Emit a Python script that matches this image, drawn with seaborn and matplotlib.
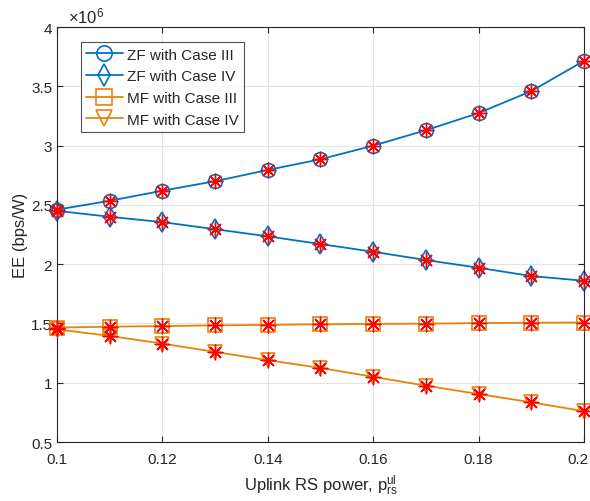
import numpy as np
import pandas as pd
import seaborn as sns
import matplotlib
matplotlib.use("Agg")
import matplotlib.pyplot as plt
import matplotlib.transforms as mtransforms
from matplotlib.ticker import FuncFormatter, MultipleLocator

# Data (EE in units of 1e6 bps/W)
rs_power = [0.10, 0.11, 0.12, 0.13, 0.14, 0.15, 0.16, 0.17, 0.18, 0.19, 0.20]
zf_case3 = [2.46, 2.535, 2.62, 2.70, 2.795, 2.885, 3.00, 3.13, 3.275, 3.46, 3.715]
zf_case4 = [2.45, 2.40, 2.355, 2.295, 2.235, 2.17, 2.105, 2.035, 1.97, 1.90, 1.86]
mf_case3 = [1.465, 1.473, 1.478, 1.484, 1.488, 1.493, 1.496, 1.499, 1.503, 1.506, 1.508]
mf_case4 = [1.45, 1.395, 1.33, 1.26, 1.19, 1.125, 1.05, 0.975, 0.905, 0.835, 0.76]
series_names = ["ZF with Case III", "ZF with Case IV", "MF with Case III", "MF with Case IV"]

df = pd.DataFrame({
    "p": rs_power * 4,
    "EE": zf_case3 + zf_case4 + mf_case3 + mf_case4,
    "series": sum([[n] * len(rs_power) for n in series_names], []),
})

sns.set_theme(style="white")
plt.rcParams["font.family"] = ["Liberation Sans", "DejaVu Sans"]
plt.rcParams["mathtext.fontset"] = "custom"
plt.rcParams["mathtext.rm"] = "Liberation Sans"
plt.rcParams["mathtext.it"] = "Liberation Sans"

blue = "#0072BD"
orange = "#E8820C"
palette = {series_names[0]: blue, series_names[1]: blue,
           series_names[2]: orange, series_names[3]: orange}
markers = {series_names[0]: "o", series_names[1]: "d",
           series_names[2]: "s", series_names[3]: "v"}

fig = plt.figure(figsize=(5.9, 5.02), dpi=100)
ax = fig.add_axes([0.0966, 0.1175, 0.8932, 0.8265])

sns.lineplot(data=df, x="p", y="EE", hue="series", style="series",
             palette=palette, markers=markers, dashes=False,
             markersize=10, markerfacecolor="none", markeredgewidth=1.2,
             linewidth=1.3, ax=ax, legend=True)
for line, n in zip(ax.get_lines()[:4], series_names):
    line.set_markeredgecolor(palette[n])
    line.set_markerfacecolor("none")
    line.set_clip_on(False)

# simulated results overlay (red asterisks)
sns.scatterplot(data=df, x="p", y="EE", marker=(8, 2, 0), s=110,
                color="red", linewidth=1.0, ax=ax, legend=False, zorder=5,
                clip_on=False)

ax.set_xlim(0.1, 0.2)
ax.set_ylim(0.5, 4)
ax.set_xticks([0.1, 0.12, 0.14, 0.16, 0.18, 0.2])
ax.yaxis.set_major_locator(MultipleLocator(0.5))
ax.xaxis.set_major_formatter(FuncFormatter(lambda v, p: "%g" % round(v, 3)))
ax.yaxis.set_major_formatter(FuncFormatter(lambda v, p: "%g" % v))
ax.grid(True, color="#e3e3e3", linewidth=0.8)
ax.set_axisbelow(True)
for s in ax.spines.values():
    s.set_color("#262626")
    s.set_linewidth(0.8)
ax.tick_params(direction="in", length=4, width=0.8, colors="#262626",
               labelsize=11, top=True, right=True, bottom=True, left=True,
               labelcolor="#262626")
ax.tick_params(axis="x", pad=7)

# nudge the last x tick label so it stays inside the figure
fig.canvas.draw()
last = ax.get_xticklabels()[-1]
last.set_transform(last.get_transform() +
                   mtransforms.ScaledTranslation(-4 / 72, 0, fig.dpi_scale_trans))

ax.set_xlabel(r"Uplink RS power, p$_{\rm rs}^{\rm ul}$", fontsize=12, color="#262626", labelpad=5)
ax.set_ylabel("EE (bps/W)", fontsize=12, color="#262626", labelpad=2)
ax.text(0.02, 1.003, r"$\times10^6$", transform=ax.transAxes, fontsize=12,
        color="#262626", ha="left", va="bottom")

handles, labels = ax.get_legend_handles_labels()
handles = handles[:4]
for h, n in zip(handles, series_names):
    h.set_markerfacecolor("none")
    h.set_markeredgecolor(palette[n])
    h.set_markersize(11)
leg = ax.legend(handles, series_names, loc="upper left",
                bbox_to_anchor=(0.045, 0.963), fontsize=11, frameon=True,
                fancybox=False, edgecolor="#262626", handlelength=2.4,
                borderpad=0.35, labelspacing=0.5, handletextpad=0.3,
                borderaxespad=0.0)
leg.get_frame().set_linewidth(0.8)

fig.savefig("out.png", dpi=100)
